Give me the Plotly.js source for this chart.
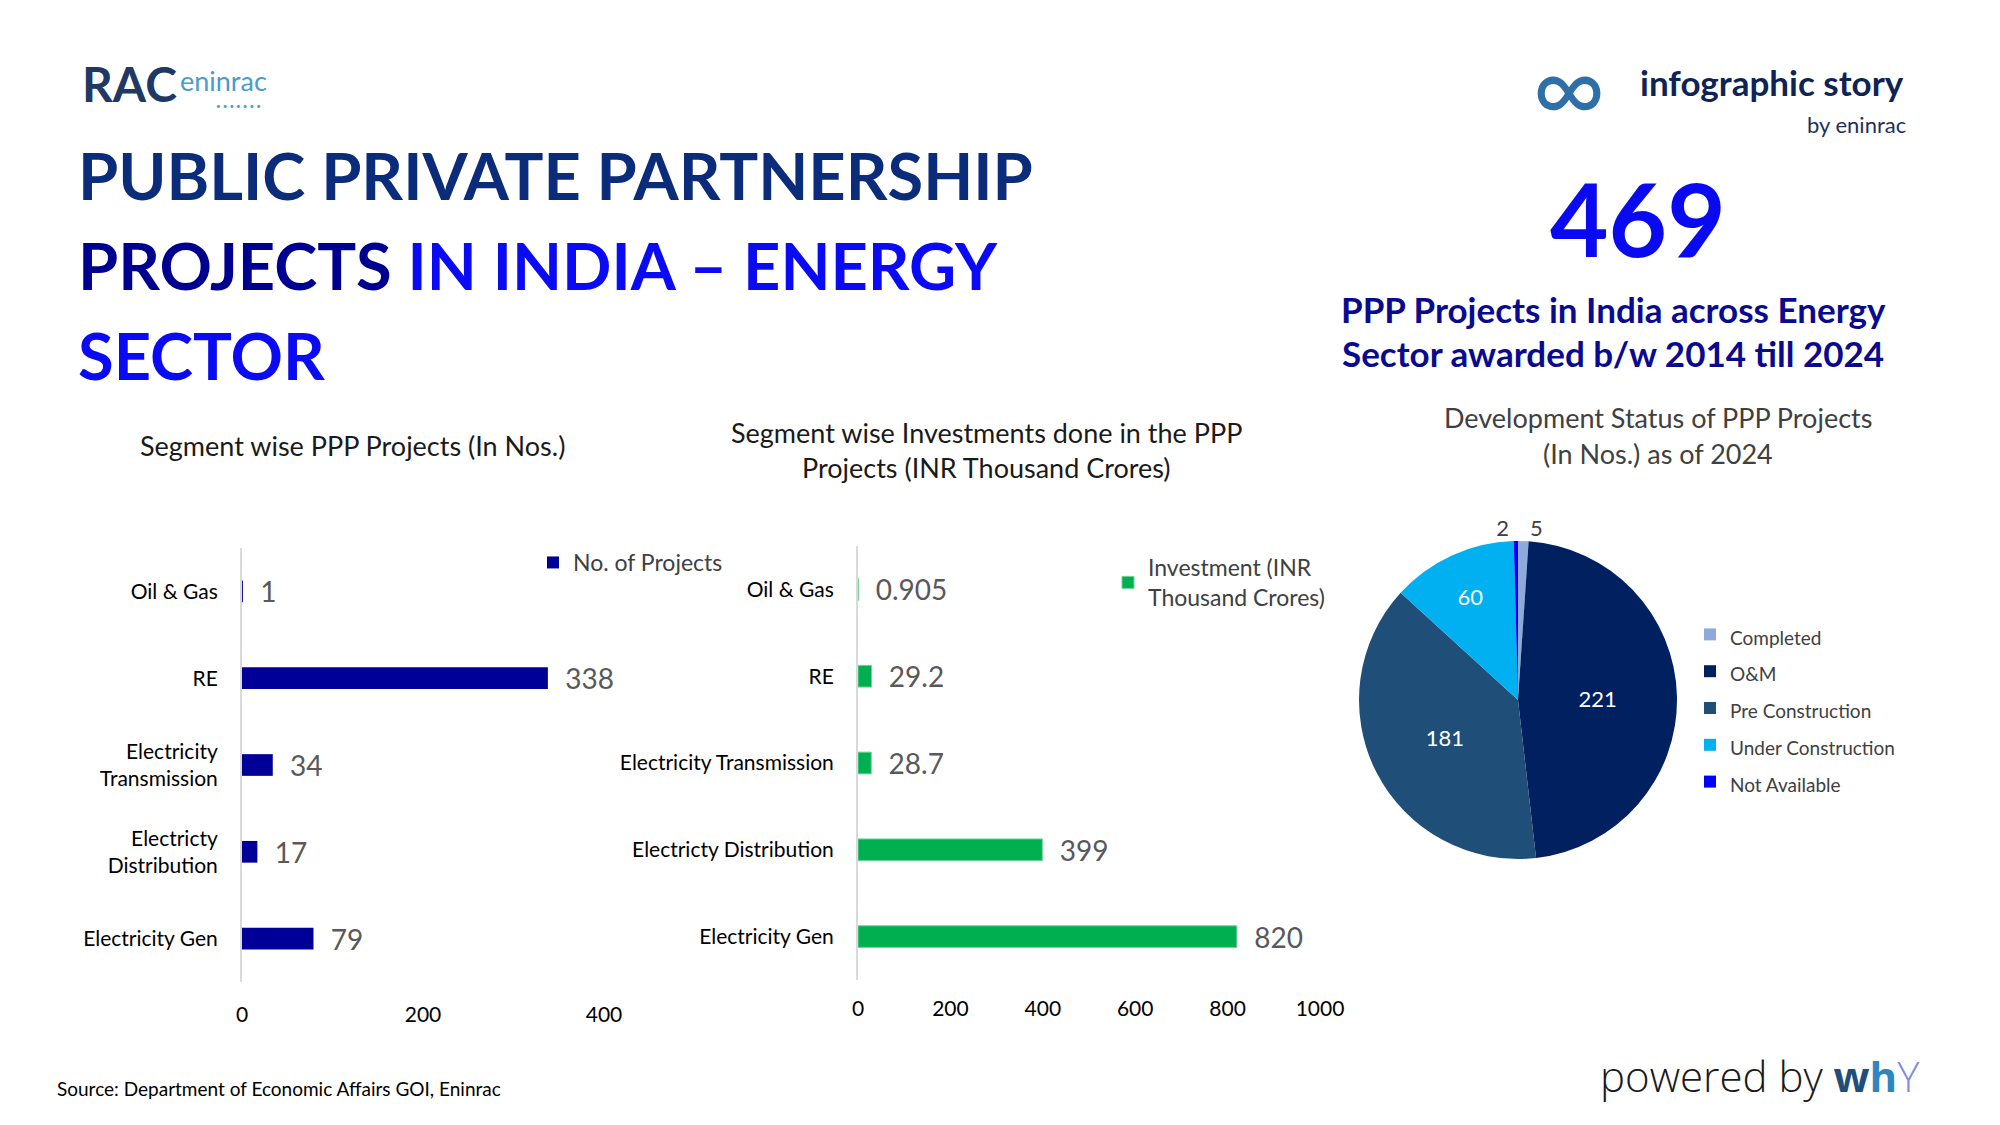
<!DOCTYPE html>
<html>
<head>
<meta charset="utf-8">
<script src="https://cdn.plot.ly/plotly-3.0.1.min.js"></script>
<style>
  html, body { margin: 0; padding: 0; background: #ffffff; }
  #chart { width: 2000px; height: 1125px; }
</style>
</head>
<body>
<div id="chart"></div>
<script>
// ---------------- DATA ----------------
const segmentCategoriesProjects = ['Oil & Gas', 'RE', 'Electricity<br>Transmission', 'Electricty<br>Distribution', 'Electricity Gen'];
const segmentCategoriesInvest = ['Oil & Gas', 'RE', 'Electricity Transmission', 'Electricty Distribution', 'Electricity Gen'];
const projectCounts = [1, 338, 34, 17, 79];
const investmentValues = [0.905, 29.2, 28.7, 399, 820];
const projectsSeriesName = 'No. of Projects';
const investSeriesName = 'Investment (INR<br>Thousand Crores)';
const projectsTicks = [0, 200, 400];
const investTicks = [0, 200, 400, 600, 800, 1000];

const statusLabels = ['Completed', 'O&M', 'Pre Construction', 'Under Construction', 'Not Available'];
const statusValues = [5, 221, 181, 60, 2];
const statusColors = ['#8eaadb', '#002060', '#1f4e79', '#00b0f0', '#0000ff'];
const statusTextPos = ['outside', 'inside', 'inside', 'inside', 'outside'];

const totalProjects = '469';

// ---------------- HELPERS ----------------
const W = 2000, H = 1125;
const px = v => v / W;
const py = v => 1 - v / H;
const FONT = 'Lato, "Open Sans", sans-serif';
const NB = '\u00a0\u00a0';

// ---------------- TRACES ----------------
const traceProjects = {
  type: 'bar', orientation: 'h',
  y: segmentCategoriesProjects, x: projectCounts,
  name: projectsSeriesName,
  xaxis: 'x', yaxis: 'y', legend: 'legend', showlegend: true,
  marker: { color: '#000099' },
  texttemplate: NB + '%{x}',
  textposition: 'outside', constraintext: 'none', cliponaxis: false,
  textfont: { family: FONT, size: 28, color: '#595959' },
  hoverinfo: 'x+y'
};

const traceInvest = {
  type: 'bar', orientation: 'h',
  y: segmentCategoriesInvest, x: investmentValues,
  name: investSeriesName,
  xaxis: 'x2', yaxis: 'y2', legend: 'legend2', showlegend: true,
  marker: { color: '#00b050', line: { color: '#6fd39a', width: 1 } },
  texttemplate: NB + '%{x}',
  textposition: 'outside', constraintext: 'none', cliponaxis: false,
  textfont: { family: FONT, size: 28, color: '#595959' },
  hoverinfo: 'x+y'
};

const traceStatus = {
  type: 'pie',
  labels: statusLabels.map(l => '<span style="font-size:19px">' + l + '</span>'),
  values: statusValues,
  marker: { colors: statusColors, line: { color: '#ffffff', width: 0 } },
  sort: false, direction: 'clockwise', rotation: 0,
  textinfo: 'value', textposition: statusTextPos,
  insidetextorientation: 'horizontal',
  insidetextfont: { family: FONT, size: 22, color: '#ffffff' },
  outsidetextfont: { family: FONT, size: 22, color: '#404040' },
  domain: { x: [px(1359), px(1677)], y: [py(859), py(541)] },
  legend: 'legend3', showlegend: true,
  automargin: false
};

// ---------------- ANNOTATIONS ----------------
function txt(text, x, y, size, color, opts) {
  return Object.assign({
    text: text, x: px(x), y: py(y), xref: 'paper', yref: 'paper',
    showarrow: false, xanchor: 'left', yanchor: 'middle',
    font: { family: FONT, size: size, color: color }
  }, opts || {});
}

const annotations = [
  // logo
  txt('<b>RAC</b>', 80, 84, 48, '#1f3864', { font: { family: FONT, size: 48, color: '#1f3864', weight: 900 } }),
  txt('eninrac', 178, 80, 27, '#4a9cc9'),
  txt('• • • • • • •', 214, 106, 8, '#4a9cc9'),
  // main title
  txt('<b>PUBLIC PRIVATE PARTNERSHIP</b>', 76, 175, 65, '#0b2c7a'),
  txt('<b>PROJECTS <span style="color:#0a0af5">IN INDIA – ENERGY</span></b>', 76, 265, 65, '#000090'),
  txt('<b>SECTOR</b>', 76, 355, 65, '#0a0af5'),
  // top right
  txt('∞', 1569, 84, 100, '#2f6fa8', { xanchor: 'center' }),
  txt('<b>infographic story</b>', 1638, 82, 35, '#0f2354'),
  txt('by eninrac', 1908, 124, 22, '#1f2f5c', { xanchor: 'right' }),
  txt('<b>' + totalProjects + '</b>', 1638, 218, 101, '#0a0af0', { xanchor: 'center' }),
  txt('<b>PPP Projects in India across Energy</b>', 1613, 309, 35, '#0a0a91', { xanchor: 'center' }),
  txt('<b>Sector awarded b/w 2014 till 2024</b>', 1613, 353, 35, '#0a0a91', { xanchor: 'center' }),
  // chart titles
  txt('Segment wise PPP Projects (In Nos.)', 352, 445, 27, '#1a1a1a', { xanchor: 'center' }),
  txt('Segment wise Investments done in the PPP', 986, 432, 27, '#1a1a1a', { xanchor: 'center' }),
  txt('Projects (INR Thousand Crores)', 986, 467, 27, '#1a1a1a', { xanchor: 'center' }),
  txt('Development Status of PPP Projects', 1658, 418, 27, '#404040', { xanchor: 'center' }),
  txt('(In Nos.) as of 2024', 1658, 453, 27, '#404040', { xanchor: 'center' }),
  // footer
  txt('Source: Department of Economic Affairs GOI, Eninrac', 55, 1088, 19, '#000000'),
  txt('powered by <b><span style="color:#1f4e79">w</span><span style="color:#2e86c1">h</span></b><span style="color:#7c8de0">Y</span>', 1598, 1075, 42, '#1a1a1a',
      { font: { family: '"Open Sans", Lato, sans-serif', size: 42, color: '#1a1a1a', weight: 300 } })
];

// ---------------- LAYOUT ----------------
const tickFont = { family: FONT, size: 21, color: '#000000' };
const catFont = { family: FONT, size: 21, color: '#000000' };

const layout = {
  width: W, height: H,
  margin: { l: 0, r: 0, t: 0, b: 0 },
  paper_bgcolor: '#ffffff', plot_bgcolor: 'rgba(0,0,0,0)',
  showlegend: true,
  bargap: 0.75,
  font: { family: FONT },
  xaxis: {
    domain: [px(242), px(604)], range: [0, 400], anchor: 'y',
    tickvals: projectsTicks, showgrid: false, zeroline: false, showline: false,
    ticks: '', tickfont: tickFont, ticklabelstandoff: 18, fixedrange: true
  },
  yaxis: {
    domain: [py(982), py(548)], anchor: 'x', type: 'category',
    categoryorder: 'array', categoryarray: segmentCategoriesProjects,
    autorange: 'reversed', showgrid: false, zeroline: false,
    showline: true, linecolor: '#d9d9d9', linewidth: 2,
    ticks: '', tickfont: catFont, ticklabelstandoff: 18, fixedrange: true
  },
  xaxis2: {
    domain: [px(858), px(1320)], range: [0, 1000], anchor: 'y2',
    tickvals: investTicks, showgrid: false, zeroline: false, showline: false,
    ticks: '', tickfont: tickFont, ticklabelstandoff: 14, fixedrange: true
  },
  yaxis2: {
    domain: [py(980), py(546)], anchor: 'x2', type: 'category',
    categoryorder: 'array', categoryarray: segmentCategoriesInvest,
    autorange: 'reversed', showgrid: false, zeroline: false,
    showline: true, linecolor: '#d9d9d9', linewidth: 2,
    ticks: '', tickfont: catFont, ticklabelstandoff: 18, fixedrange: true
  },
  legend: {
    x: px(533), y: py(541), xanchor: 'left', yanchor: 'top',
    bgcolor: 'rgba(0,0,0,0)', font: { family: FONT, size: 23, color: '#404040' }
  },
  legend2: {
    x: px(1108), y: py(546), xanchor: 'left', yanchor: 'top',
    bgcolor: 'rgba(0,0,0,0)', font: { family: FONT, size: 23, color: '#404040' }
  },
  legend3: {
    x: px(1690), y: py(611), xanchor: 'left', yanchor: 'top',
    bgcolor: 'rgba(0,0,0,0)', font: { family: FONT, size: 26, color: '#404040' }
  },
  annotations: annotations
};

Plotly.newPlot('chart', [traceProjects, traceInvest, traceStatus], layout, { displayModeBar: false, staticPlot: true });
</script>
</body>
</html>
